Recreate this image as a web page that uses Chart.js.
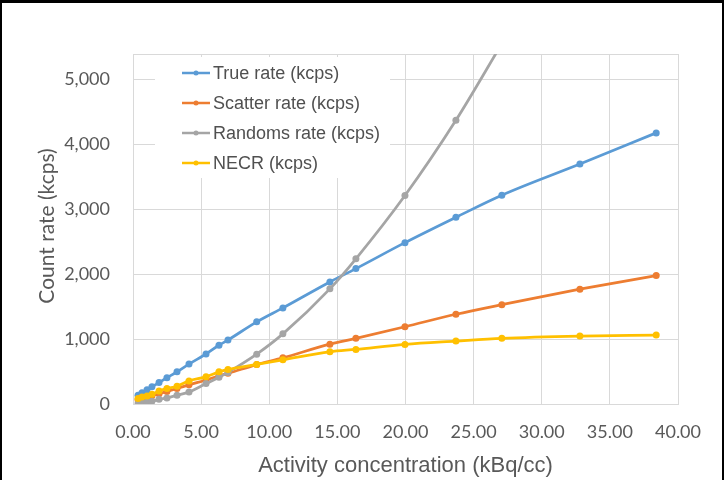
<!DOCTYPE html>
<html><head><meta charset="utf-8">
<script src="https://cdn.jsdelivr.net/npm/chart.js@4.4.1/dist/chart.umd.min.js"></script>
<style>
html,body{margin:0;padding:0;background:#fff;}
#wrap{position:relative;width:724px;height:480px;}
#frame{position:absolute;left:0;top:0;width:724px;height:480px;box-sizing:border-box;border-top:3px solid #000;border-left:2px solid #000;border-right:2px solid #000;pointer-events:none;}
canvas{display:block;}
</style></head><body>
<div id="wrap"><canvas id="c" width="724" height="480"></canvas><div id="frame"></div></div>
<script>
// Activity concentration (kBq/cc)
const activity = [0.37, 0.66, 1.03, 1.39, 1.91, 2.49, 3.23, 4.11, 5.36, 6.31, 6.97, 9.08, 11.0, 14.45, 16.36, 19.96, 23.7, 27.07, 32.8, 38.4];
const trueRate    = [135, 175, 220, 265, 330, 405, 495, 615, 770, 905, 985, 1265, 1480, 1880, 2085, 2485, 2875, 3215, 3695, 4175];
const scatterRate = [65, 84, 106, 127, 158, 194, 238, 295, 370, 435, 473, 607, 711, 922, 1011, 1190, 1382, 1530, 1768, 1978];
const randomsRate = [9, 16, 28, 41, 72, 94, 134, 185, 315, 411, 487, 768, 1080, 1773, 2236, 3210, 4369, 5550, null, null];
const necr        = [83, 108, 124, 150, 201, 238, 274, 356, 418, 495, 532, 609, 680, 804, 841, 918, 969, 1011, 1046, 1062];
const seriesNames = ['True rate (kcps)', 'Scatter rate (kcps)', 'Randoms rate (kcps)', 'NECR (kcps)'];
const xTicks = [0, 5, 10, 15, 20, 25, 30, 35, 40];
const yTicks = [0, 1000, 2000, 3000, 4000, 5000];
const yMax = 5390;

const colors = ['#5B9BD5', '#ED7D31', '#A5A5A5', '#FFC000'];
const allSeries = [trueRate, scatterRate, randomsRate, necr];

function pts(vals){
  const out = [];
  activity.forEach((x,i)=>{ if (vals[i] !== null) out.push({x:x, y:vals[i]}); });
  return out;
}

const datasets = allSeries.map((vals,i)=>({
  label: seriesNames[i],
  data: pts(vals),
  showLine: true,
  borderColor: colors[i],
  backgroundColor: colors[i],
  borderWidth: 2.75,
  pointRadius: 3.5,
  pointBorderWidth: 0,
  cubicInterpolationMode: 'monotone',
  order: 4 - i
}));

const decor = {
  id: 'decor',
  afterDatasetsDraw(chart){
    const ctx = chart.ctx;
    ctx.save();
    // legend box
    ctx.fillStyle = '#ffffff';
    ctx.fillRect(155, 57, 235, 121);
    seriesNames.forEach((n,i)=>{
      const y = 73 + i*30;
      ctx.strokeStyle = colors[i];
      ctx.lineWidth = 2.5;
      ctx.beginPath(); ctx.moveTo(182, y); ctx.lineTo(210, y); ctx.stroke();
      ctx.fillStyle = colors[i];
      ctx.beginPath(); ctx.arc(196, y, 2.5, 0, Math.PI*2); ctx.fill();
      ctx.font = '18px "Liberation Sans", Arial, sans-serif';
      ctx.fillStyle = '#505050';
      ctx.textBaseline = 'middle';
      ctx.textAlign = 'left';
      ctx.fillText(n, 213, y + 1);
    });
    // y axis title
    ctx.translate(47, 226);
    ctx.rotate(-Math.PI/2);
    ctx.font = '21px Lato, sans-serif';
    ctx.fillStyle = '#595959';
    ctx.textAlign = 'center';
    ctx.textBaseline = 'middle';
    ctx.fillText('Count rate (kcps)', 0, 0);
    ctx.restore();
  }
};

new Chart(document.getElementById('c'), {
  type: 'scatter',
  data: { datasets },
  options: {
    responsive: false,
    animation: false,
    devicePixelRatio: 1,
    layout: { padding: { top: 54, right: 46, left: 0, bottom: 0 } },
    plugins: { legend: { display: false }, tooltip: { enabled: false } },
    scales: {
      x: {
        type: 'linear', min: 0, max: 40,
        afterBuildTicks: s => { s.ticks = xTicks.map(v=>({value:v})); },
        afterFit: s => { s.height = 76; },
        ticks: { callback: v => Number(v).toFixed(2), font: { family: 'Lato', size: 18 }, color: '#595959', padding: 17, maxRotation: 0, autoSkip: false },
        grid: { color: '#D9D9D9', drawTicks: false, lineWidth: 1 },
        border: { color: '#D9D9D9' },
        title: { display: true, text: 'Activity concentration (kBq/cc)', font: { family: 'Liberation Sans', size: 22 }, color: '#595959', padding: { top: 4, bottom: 1 } }
      },
      y: {
        type: 'linear', min: 0, max: yMax,
        afterBuildTicks: s => { s.ticks = yTicks.concat([yMax]).map(v=>({value:v})); },
        afterFit: s => { s.width = 133; },
        ticks: { callback: v => yTicks.includes(v) ? v.toLocaleString('en-US') : '', font: { family: 'Lato', size: 18 }, color: '#595959', padding: 23, autoSkip: false },
        grid: { color: '#D9D9D9', drawTicks: false, lineWidth: 1 },
        border: { color: '#D9D9D9' }
      }
    }
  },
  plugins: [decor]
});
</script>
</body></html>
